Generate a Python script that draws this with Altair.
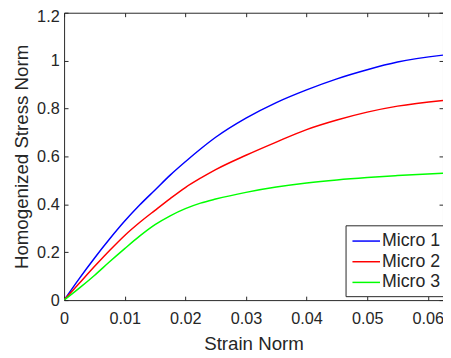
import altair as alt
import pandas as pd

# ---- data ----
strain = [0, 0.0025, 0.005, 0.0075, 0.01, 0.0125, 0.015, 0.0175, 0.02, 0.0225, 0.025,
          0.03, 0.035, 0.04, 0.045, 0.05, 0.055, 0.0625]
micro1 = [0, 0.09, 0.175, 0.255, 0.33, 0.398, 0.46, 0.522, 0.578, 0.631, 0.68,
          0.76, 0.825, 0.878, 0.924, 0.962, 0.994, 1.023]
micro2 = [0, 0.07, 0.14, 0.207, 0.27, 0.325, 0.375, 0.424, 0.47, 0.509, 0.545,
          0.605, 0.66, 0.712, 0.752, 0.785, 0.81, 0.834]
micro3 = [0, 0.05, 0.103, 0.16, 0.215, 0.268, 0.315, 0.352, 0.382, 0.405, 0.422,
          0.45, 0.472, 0.489, 0.502, 0.512, 0.52, 0.53]
series_names = ["Micro 1", "Micro 2", "Micro 3"]
series_colors = ["#0000ff", "#ff0000", "#00ff00"]
x_ticks = [0, 0.01, 0.02, 0.03, 0.04, 0.05, 0.06]
y_ticks = [0, 0.2, 0.4, 0.6, 0.8, 1.0, 1.2]
x_title = "Strain Norm"
y_title = "Homogenized Stress Norm"

rows = []
for name, vals in zip(series_names, [micro1, micro2, micro3]):
    for s, v in zip(strain, vals):
        rows.append({"strain": s, "stress": v, "series": name})
df = pd.DataFrame(rows)

FONT = "Liberation Sans"
TXT = "#262626"
TICK = 4

xscale = alt.Scale(domain=[0, 0.0625], nice=False, zero=False)
yscale = alt.Scale(domain=[0, 1.2], nice=False)

base = alt.Chart(df)

lines = base.mark_line(strokeWidth=1.5, clip=True, interpolate="monotone").encode(
    x=alt.X("strain:Q", scale=xscale,
            axis=alt.Axis(orient="bottom", title=x_title, values=x_ticks, format="~g",
                          ticks=False, domain=False, grid=False, labelPadding=11,
                          labelFontSize=16.5, titleFontSize=19, titlePadding=8,
                          labelFont=FONT, titleFont=FONT, labelColor=TXT, titleColor=TXT,
                          titleFontWeight="normal", labelFlush=False)),
    y=alt.Y("stress:Q", scale=yscale,
            axis=alt.Axis(orient="left", title=y_title, values=y_ticks, format="~g",
                          ticks=False, domain=False, grid=False, labelPadding=5,
                          labelFontSize=16.5, titleFontSize=19, titlePadding=5,
                          labelFont=FONT, titleFont=FONT, labelColor=TXT, titleColor=TXT,
                          titleFontWeight="normal", labelFlush=False,
                          labelOffset={"condition": {"test": "datum.value >= 1.2", "value": 4},
                                       "value": 0})),
    color=alt.Color("series:N",
                    scale=alt.Scale(domain=series_names, range=series_colors),
                    legend=alt.Legend(title=None, orient="none", legendX=286, legendY=216,
                                      symbolType="M-1.4,0L1.4,0", symbolStrokeWidth=1.5,
                                      symbolSize=400, symbolOffset=5, labelFontSize=18,
                                      labelFont=FONT, labelColor=TXT, fillColor="white",
                                      strokeColor=TXT, padding=5, rowPadding=1,
                                      labelOffset=5, labelExpr="datum.label + '\u00a0'")),
)


def tick_layer(xo, yo):
    return base.mark_line(opacity=0).encode(
        x=alt.X("strain:Q", scale=xscale,
                axis=alt.Axis(orient=xo, values=x_ticks, labels=False,
                              domain=False, grid=False, tickSize={"expr": str(-TICK)},
                              tickColor=TXT, title=None)),
        y=alt.Y("stress:Q", scale=yscale,
                axis=alt.Axis(orient=yo, values=y_ticks, labels=False,
                              domain=False, grid=False, tickSize={"expr": str(-TICK)},
                              tickColor=TXT, title=None)),
        detail="series:N",
    )


chart = alt.layer(lines, tick_layer("bottom", "left"), tick_layer("top", "right")).resolve_scale(
    x="shared", y="shared"
).resolve_axis(
    x="independent", y="independent"
).properties(
    width=385, height=292,
    autosize=alt.AutoSizeParams(type="none"),
    padding={"left": 57, "top": 2, "right": 0, "bottom": 56},
).configure_view(
    stroke=TXT, strokeWidth=1
)

chart.save("out.html", embed_options={"renderer": "svg", "actions": False})
